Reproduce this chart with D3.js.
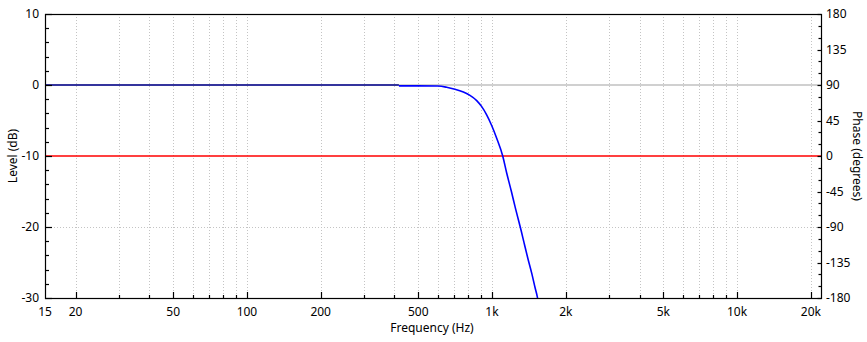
<!DOCTYPE html>
<html>
<head>
<meta charset="utf-8">
<script src="https://cdn.jsdelivr.net/npm/d3@7/dist/d3.min.js"></script>
<style>
  html, body { margin: 0; padding: 0; background: #fff; }
  svg { display: block; }
  text { font-family: "Noto Sans", "Open Sans", sans-serif; font-size: 12px; fill: #000; }
</style>
</head>
<body>
<svg id="chart" width="867" height="342"></svg>
<script>
// Frequency axis labels
const freqTickValues = [15, 20, 50, 100, 200, 500, 1000, 2000, 5000, 10000, 20000];
const freqTickLabels = ["15", "20", "50", "100", "200", "500", "1k", "2k", "5k", "10k", "20k"];

// Level (left) and phase (right) axis labels
const levelTicks = [10, 0, -10, -20, -30];
const phaseTicks = [180, 135, 90, 45, 0, -45, -90, -135, -180];

// Flat reference trace at 0 dB
const flatFreq = [15, 417];
const flatLevel = [0, 0];

// Low-pass magnitude response
const responseFreq  = [417, 500, 602, 653, 706, 764, 813, 866, 908, 951, 997, 1045, 1106, 1148, 1200, 1241, 1317, 1351, 1400, 1452, 1500, 1530, 1545];
const responseLevel = [-0.12, -0.12, -0.15, -0.32, -0.6, -1.0, -1.47, -2.2, -3.05, -4.2, -5.7, -7.5, -10, -12.4, -15.0, -17.1, -20.6, -22.2, -24.4, -26.5, -28.6, -29.8, -30.6];

// Marker lines
const zeroLevel = 0;
const markerLevel = -10;
const gridLevels = [-20];

const svg = d3.select("#chart");
const L = 45, R = 821, T = 14, B = 298;

const x = d3.scaleLog().domain([15, 22000]).range([L, R]);
const y = d3.scaleLinear().domain([-30, 10]).range([B, T]);
const yPhase = d3.scaleLinear().domain([-180, 180]).range([B, T]);

// clip region for traces
svg.append("defs").append("clipPath").attr("id", "plot-clip")
  .append("rect").attr("x", L).attr("y", T).attr("width", R - L).attr("height", B - T);

// vertical dotted grid
const gridFreqs = x.ticks().filter(f => f >= 20 && f <= 20000);
svg.append("g").selectAll("line").data(gridFreqs).join("line")
  .attr("x1", d => Math.round(x(d)) + 0.5).attr("x2", d => Math.round(x(d)) + 0.5)
  .attr("y1", T).attr("y2", B)
  .attr("stroke", "#c4c4c4").attr("stroke-width", 1).attr("stroke-dasharray", "1,2");

// horizontal dotted grid
svg.append("g").selectAll("line").data(gridLevels).join("line")
  .attr("x1", L).attr("x2", R)
  .attr("y1", d => Math.round(y(d)) + 0.5).attr("y2", d => Math.round(y(d)) + 0.5)
  .attr("stroke", "#c4c4c4").attr("stroke-width", 1).attr("stroke-dasharray", "1,2");

// 0 dB line and -10 dB marker
svg.append("line").attr("x1", L).attr("x2", R)
  .attr("y1", y(zeroLevel)).attr("y2", y(zeroLevel))
  .attr("stroke", "#c0c0c0").attr("stroke-width", 1.5);
svg.append("line").attr("x1", L).attr("x2", R)
  .attr("y1", y(markerLevel)).attr("y2", y(markerLevel))
  .attr("stroke", "#ff0000").attr("stroke-width", 1.5);

const line = d3.line().x(d => x(d[0])).y(d => y(d[1]));

svg.append("path")
  .attr("clip-path", "url(#plot-clip)")
  .attr("d", line(flatFreq.map((f, i) => [f, flatLevel[i]])))
  .attr("fill", "none").attr("stroke", "#00008c").attr("stroke-width", 1.6);

svg.append("path")
  .attr("clip-path", "url(#plot-clip)")
  .attr("d", line.curve(d3.curveMonotoneX)(responseFreq.map((f, i) => [f, responseLevel[i]])))
  .attr("fill", "none").attr("stroke", "#0000ff").attr("stroke-width", 1.6);

// frame
svg.append("rect").attr("x", L + 0.5).attr("y", T + 0.5)
  .attr("width", R - L).attr("height", B - T)
  .attr("fill", "none").attr("stroke", "#000").attr("stroke-width", 1.2);

// bottom ticks (inward)
const majorF = new Set(freqTickValues);
svg.append("g").selectAll("line").data(gridFreqs).join("line")
  .attr("x1", d => Math.round(x(d)) + 0.5).attr("x2", d => Math.round(x(d)) + 0.5)
  .attr("y1", B).attr("y2", d => majorF.has(d) ? B - 6 : B - 3)
  .attr("stroke", "#000").attr("stroke-width", 1.2);

// left ticks every 2 dB
const levelMinor = d3.range(-30, 10.1, 2);
svg.append("g").selectAll("line").data(levelMinor).join("line")
  .attr("x1", L).attr("x2", d => d % 10 === 0 ? L + 7 : L + 4)
  .attr("y1", d => Math.round(y(d)) + 0.5).attr("y2", d => Math.round(y(d)) + 0.5)
  .attr("stroke", "#000").attr("stroke-width", 1.2);

// right ticks every 15 degrees
const phaseMinor = d3.range(-180, 180.1, 15);
svg.append("g").selectAll("line").data(phaseMinor).join("line")
  .attr("x1", R + 0.5).attr("x2", d => d % 45 === 0 ? R - 3.5 : R - 2.5)
  .attr("y1", d => Math.round(yPhase(d)) + 0.5).attr("y2", d => Math.round(yPhase(d)) + 0.5)
  .attr("stroke", "#000").attr("stroke-width", 1.2);

// tick labels
svg.append("g").selectAll("text").data(freqTickValues).join("text")
  .attr("x", d => x(d)).attr("y", B + 18)
  .attr("text-anchor", "middle")
  .text((d, i) => freqTickLabels[i]);

svg.append("g").selectAll("text").data(levelTicks).join("text")
  .attr("x", L - 6).attr("y", d => y(d) + 4)
  .attr("text-anchor", "end")
  .text(d => d);

svg.append("g").selectAll("text").data(phaseTicks).join("text")
  .attr("x", R + 5).attr("y", d => yPhase(d) + 4)
  .attr("text-anchor", "start")
  .text(d => d);

// axis titles
svg.append("text").attr("x", (L + R) / 2 - 1).attr("y", B + 34)
  .attr("text-anchor", "middle").text("Frequency (Hz)");
svg.append("text")
  .attr("transform", `translate(17,${(T + B) / 2}) rotate(-90)`)
  .attr("text-anchor", "middle").text("Level (dB)");
svg.append("text")
  .attr("transform", `translate(853,${(T + B) / 2}) rotate(90)`)
  .attr("text-anchor", "middle").text("Phase (degrees)");
</script>
</body>
</html>
